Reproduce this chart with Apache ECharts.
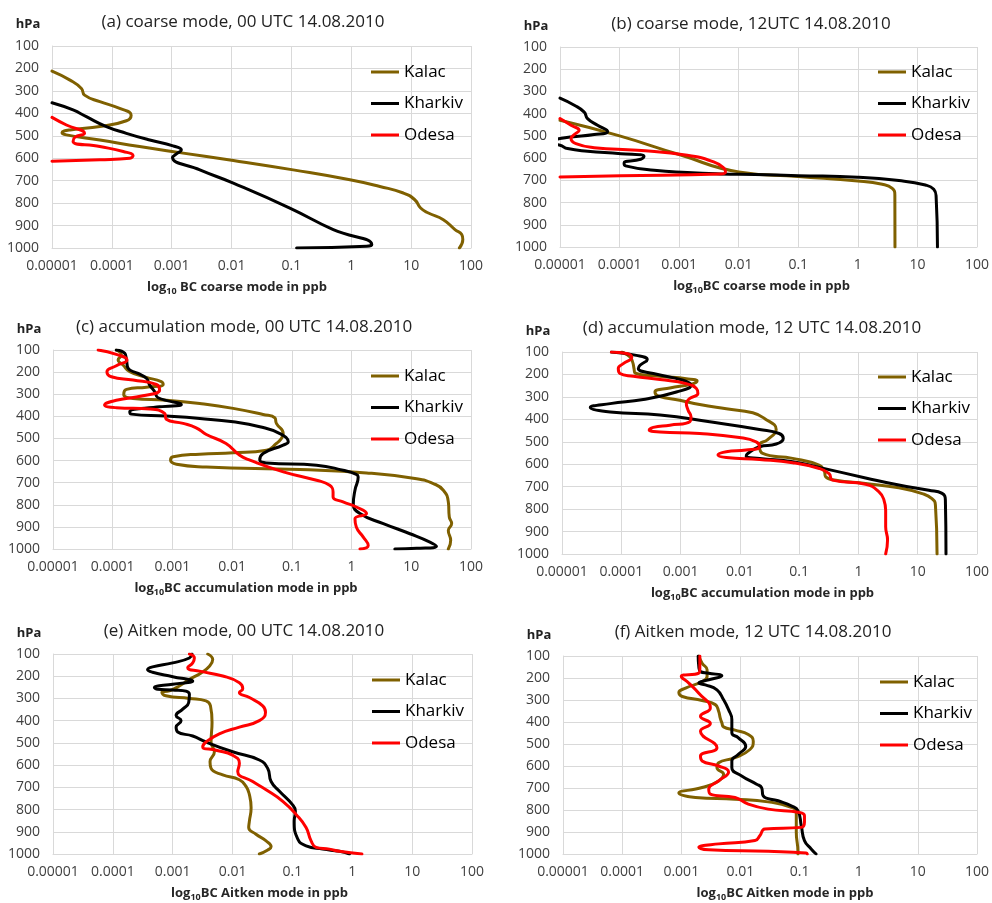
<!DOCTYPE html>
<html>
<head>
<meta charset="utf-8">
<script src="https://cdn.jsdelivr.net/npm/echarts@6/dist/echarts.min.js"></script>
<style>
html,body{margin:0;padding:0;background:#fff;}
#chart{width:992px;height:903px;}
</style>
</head>
<body>
<div id="chart"></div>
<script>
// ---------- DATA: [BC in ppb, pressure in hPa] ----------
const stations = ['Kalac', 'Kharkiv', 'Odesa'];
const xTickLabels = ['0.00001', '0.0001', '0.001', '0.01', '0.1', '1', '10', '100'];

// (a) coarse mode, 00 UTC
const coarse00Kalac = [[1e-5,212],[2e-5,252],[3.1e-5,289],[3.5e-5,319],[6.3e-5,348],[1.35e-4,378],[2.1e-4,408],[1.75e-4,433],[6.3e-5,459],[2e-5,474],[1.47e-5,486],[1.74e-5,496],[6.3e-5,519],[2.9e-4,548],[1.36e-3,575],[0.0107,610],[0.107,652],[0.95,696],[3.0,726],[7.4,755],[11.5,785],[14.4,822],[19.4,844],[34.5,874],[54,918],[70,940],[73,962],[64,1000]];
const coarse00Kharkiv = [[1e-5,353],[2.25e-5,385],[3.75e-5,415],[8.1e-5,459],[1.75e-4,489],[4.3e-4,519],[1.05e-3,545],[1.45e-3,563],[1.2e-3,581],[1.03e-3,596],[2.95e-3,652],[0.0107,711],[0.094,822],[0.5,918],[2.2,985],[1.8,992],[0.122,1000]];
const coarse00Odesa = [[1e-5,418],[1.74e-5,452],[3.5e-5,489],[2.4e-5,507],[2.25e-5,526],[6.3e-5,548],[1.55e-4,570],[2.26e-4,588],[2e-4,600],[6.3e-5,607],[1e-5,613]];

// (b) coarse mode, 12 UTC
const coarse12Kalac = [[1e-5,430],[1e-4,500],[1e-3,584],[0.01,662],[0.1,683],[1,703],[2.57,718],[3.78,736],[4.18,766],[4.2,1000]];
const coarse12Kharkiv = [[1e-5,330],[1.74e-5,362],[2.55e-5,393],[2.9e-5,422],[4.27e-5,452],[6.3e-5,480],[3.75e-5,494],[1.53e-5,505],[1e-5,512],[5e-6,527],[1e-5,542],[1.34e-5,557],[2.9e-5,569],[1.05e-4,580],[2.57e-4,592],[2.26e-4,605],[1.19e-4,622],[1.26e-4,635],[3.8e-4,655],[1.37e-3,665],[4.9e-3,671],[0.0187,674],[0.1,679],[1,686],[4.9,701],[13.6,721],[18.8,740],[20.6,773],[21.7,1000]];
const coarse12Odesa = [[1e-5,422],[1.53e-5,452],[2.1e-5,475],[1.74e-5,494],[1.53e-5,512],[1.85e-5,535],[3.75e-5,553],[2e-4,565],[1.37e-3,587],[3.8e-3,617],[5.6e-3,644],[6e-3,662],[4.9e-3,671],[1.05e-4,679],[1e-5,685]];

// (c) accumulation mode, 00 UTC
const accum00Kalac = [[1.15e-4,100],[1.4e-4,123],[1.23e-4,145],[1.49e-4,168],[1.93e-4,198],[3.67e-4,224],[6.5e-4,243],[7e-4,256],[3.67e-4,268],[1.7e-4,278],[1.53e-4,301],[2.19e-4,319],[7.9e-4,327],[2.87e-3,342],[0.0104,364],[0.033,392],[0.052,407],[0.055,432],[0.0716,478],[0.067,500],[0.055,523],[0.0376,553],[0.0104,565],[2.87e-3,571],[1.03e-3,583],[9.3e-4,598],[1.17e-3,617],[3.7e-3,629],[0.136,641],[1.78,656],[12.3,682],[23.4,704],[34.4,734],[41.7,787],[43.3,855],[47.4,885],[41.7,916],[45.7,961],[41.7,1000]];
const accum00Kharkiv = [[1.15e-4,100],[1.59e-4,115],[1.7e-4,145],[1.81e-4,183],[2.66e-4,206],[3.67e-4,228],[4.17e-4,259],[5.06e-4,289],[5.75e-4,316],[1.41e-3,346],[6.1e-4,357],[1.93e-4,379],[2.05e-4,390],[7.9e-4,399],[2.87e-3,410],[0.0104,425],[0.029,447],[0.063,478],[0.087,515],[0.0716,530],[0.033,568],[0.029,598],[0.0376,611],[0.259,621],[0.72,644],[1.2,662],[1.29,674],[1.14,734],[1.07,795],[1.38,840],[3.4,885],[9.5,931],[20.5,969],[26.4,988],[12.3,997],[5.3,1000]];
const accum00Odesa = [[5.7e-5,100],[1.15e-4,120],[1.74e-4,145],[1.15e-4,171],[8e-5,198],[9.5e-5,221],[2.19e-4,236],[5.4e-4,256],[6.1e-4,281],[3.2e-4,307],[1.15e-4,327],[7.3e-5,349],[1.15e-4,361],[4.17e-4,367],[7.4e-4,387],[7.9e-4,413],[1.51e-3,432],[2.5e-3,452],[3.7e-3,482],[7.9e-3,523],[0.0134,576],[0.0198,598],[0.072,651],[0.259,689],[0.43,712],[0.49,742],[0.49,765],[0.72,787],[1.2,810],[1.78,840],[1.14,863],[1.2,901],[1.57,946],[1.9,984],[1.38,1000]];

// (d) accumulation mode, 12 UTC
const accum12Kalac = [[1.02e-4,100],[1.4e-4,122],[1.55e-4,144],[1.64e-4,174],[1.7e-4,193],[4.5e-4,208],[1.25e-3,219],[1.9e-3,229],[1.5e-3,244],[6.6e-4,260],[3.7e-4,278],[4.2e-4,296],[9.7e-4,315],[2.1e-3,334],[5.9e-3,353],[0.0165,371],[0.026,396],[0.041,445],[0.0295,490],[0.0214,515],[0.0243,552],[0.0776,574],[0.217,604],[0.265,630],[0.28,656],[0.415,671],[1.32,686],[4.8,705],[11.9,731],[17.4,753],[19.9,782],[21.2,1000]];
const accum12Kharkiv = [[6.8e-5,100],[1.8e-4,115],[2.74e-4,134],[2.07e-4,159],[1.94e-4,174],[3.46e-4,196],[1.1e-3,226],[1.5e-3,248],[8.5e-4,278],[2.35e-4,312],[6.5e-5,330],[3e-5,347],[6.5e-5,367],[4.5e-4,381],[3.1e-3,411],[0.0214,445],[0.046,463],[0.054,485],[0.041,510],[0.0214,522],[0.0136,552],[0.0128,564],[0.0214,574],[0.0776,589],[0.217,614],[1.32,661],[4.8,693],[15.4,716],[25.8,730],[29.3,760],[30,1000]];
const accum12Odesa = [[6.8e-5,100],[1.23e-4,107],[1.5e-4,125],[1.08e-4,152],[8.9e-5,174],[9.5e-5,196],[1.6e-4,208],[4.5e-4,223],[1.25e-3,241],[1.85e-3,263],[1.96e-3,285],[1.43e-3,307],[1.25e-3,330],[1.34e-3,359],[1.5e-3,389],[1.43e-3,411],[6.6e-4,426],[3.46e-4,436],[2.96e-4,448],[4.5e-4,456],[2.1e-3,463],[9.8e-3,481],[0.0188,500],[0.0214,522],[0.0128,537],[5.9e-3,544],[4.27e-3,559],[5.9e-3,570],[0.0214,579],[0.0776,593],[0.219,619],[0.32,642],[0.366,671],[1.32,689],[2.22,723],[2.7,760],[2.88,805],[2.88,879],[3.1,938],[2.88,1000]];

// (e) Aitken mode, 00 UTC
const aitken00Kalac = [[3.85e-3,100],[4.66e-3,125],[4.1e-3,155],[2.98e-3,185],[1.9e-3,214],[1.29e-3,244],[8.8e-4,266],[6.6e-4,273],[7.7e-4,288],[1.9e-3,300],[3.6e-3,311],[4.27e-3,333],[4.54e-3,407],[4.37e-3,496],[4.97e-3,540],[4.2e-3,585],[4.37e-3,615],[6.85e-3,644],[0.013,666],[0.0168,696],[0.0191,733],[0.0204,792],[0.0191,852],[0.0186,881],[0.0246,911],[0.0363,941],[0.044,967],[0.0387,982],[0.028,1000]];
const aitken00Kharkiv = [[2.1e-3,100],[1.9e-3,118],[1e-3,140],[4.6e-4,158],[3.8e-4,170],[4.6e-4,182],[1e-3,202],[2.16e-3,222],[1e-3,236],[4.94e-4,251],[5.6e-4,259],[1e-3,262],[1.9e-3,281],[1.85e-3,318],[1.47e-3,348],[1.14e-3,377],[1.38e-3,400],[1.14e-3,429],[1.21e-3,451],[2.16e-3,469],[3.6e-3,496],[0.01,540],[0.028,577],[0.0387,615],[0.044,674],[0.0607,718],[0.1,778],[0.112,807],[0.107,852],[0.123,933],[0.169,963],[0.32,978],[0.61,988],[0.9,1000]];
const aitken00Odesa = [[1.9e-3,100],[2.3e-3,118],[2.16e-3,140],[1.78e-3,162],[2.79e-3,177],[6.85e-3,199],[0.013,229],[0.0148,256],[0.013,273],[0.0191,296],[0.0319,333],[0.0355,362],[0.028,400],[0.013,429],[6e-3,459],[3.6e-3,496],[3.17e-3,518],[5.3e-3,533],[0.01,555],[0.013,592],[0.0122,629],[0.0217,674],[0.0363,711],[0.069,763],[0.115,822],[0.169,881],[0.205,941],[0.249,970],[0.415,978],[0.61,988],[1.45,1000]];

// (f) Aitken mode, 12 UTC
const aitken12Kalac = [[1.98e-3,100],[2.25e-3,133],[2.73e-3,163],[2.73e-3,193],[2.25e-3,216],[1.18e-3,246],[9.1e-4,266],[1.04e-3,284],[2.25e-3,302],[3.76e-3,321],[4.28e-3,351],[4.56e-3,382],[4.86e-3,404],[5.19e-3,422],[8.1e-3,437],[0.0136,457],[0.0165,487],[0.0145,525],[8.1e-3,562],[4.28e-3,585],[4.01e-3,608],[5.19e-3,638],[4.28e-3,668],[2.25e-3,698],[9.1e-4,723],[1.74e-3,743],[8.1e-3,751],[0.0295,763],[0.0725,788],[0.088,811],[0.088,901],[0.094,992],[0.094,1000]];
const aitken12Kharkiv = [[1.93e-3,100],[1.98e-3,148],[2.11e-3,171],[2.91e-3,178],[4.86e-3,190],[2.91e-3,208],[1.98e-3,223],[2.56e-3,231],[4.01e-3,254],[5.19e-3,299],[6.3e-3,344],[7.16e-3,389],[7.16e-3,449],[9.25e-3,472],[0.0123,510],[9.25e-3,547],[7.16e-3,577],[7.16e-3,608],[0.0105,645],[0.0188,683],[0.0228,698],[0.0243,736],[0.0434,758],[0.0725,781],[0.094,803],[0.107,871],[0.121,939],[0.157,977],[0.19,1000]];
const aitken12Odesa = [[2.06e-3,100],[2.06e-3,163],[1.98e-3,178],[1e-3,193],[1.34e-3,223],[1.98e-3,269],[3.1e-3,336],[2.11e-3,374],[3.1e-3,407],[2.11e-3,442],[4.01e-3,517],[2.11e-3,555],[2.25e-3,577],[4.28e-3,600],[6.3e-3,627],[4.28e-3,668],[2.91e-3,705],[3.1e-3,728],[8.1e-3,743],[0.0136,773],[0.0295,796],[0.1,811],[0.121,826],[0.121,856],[0.107,879],[0.0259,886],[0.0214,916],[0.0176,939],[4.28e-3,954],[1.98e-3,969],[2.91e-3,981],[0.0295,988],[0.129,995],[0.135,1000]];

const panelTitles = ['(a) coarse mode, 00 UTC 14.08.2010', '(b) coarse mode, 12UTC 14.08.2010', '(c) accumulation mode, 00 UTC 14.08.2010', '(d) accumulation mode, 12 UTC 14.08.2010', '(e) Aitken mode, 00 UTC 14.08.2010', '(f) Aitken mode, 12 UTC 14.08.2010'];
const axisNames = [['log', '10', ' BC coarse mode in ppb'], ['log', '10', 'BC coarse mode in ppb'], ['log', '10', 'BC accumulation mode in ppb'], ['log', '10', 'BC accumulation mode in ppb'], ['log', '10', 'BC Aitken mode in ppb'], ['log', '10', 'BC Aitken mode in ppb']];
const panelData = [
  [coarse00Kalac, coarse00Kharkiv, coarse00Odesa],
  [coarse12Kalac, coarse12Kharkiv, coarse12Odesa],
  [accum00Kalac, accum00Kharkiv, accum00Odesa],
  [accum12Kalac, accum12Kharkiv, accum12Odesa],
  [aitken00Kalac, aitken00Kharkiv, aitken00Odesa],
  [aitken12Kalac, aitken12Kharkiv, aitken12Odesa]
];

// ---------- LAYOUT / STYLE ----------
const FONT = '"Open Sans", "Noto Sans", sans-serif';
const colors = ['#7F6000', '#000000', '#FF0000'];
const grids = [
  {left: 52, top: 46, width: 419, height: 202},
  {left: 560, top: 47, width: 418, height: 200},
  {left: 53, top: 350, width: 418, height: 199},
  {left: 562, top: 352, width: 416, height: 202},
  {left: 53, top: 654, width: 419, height: 202},
  {left: 563, top: 656, width: 416, height: 199}
];
const titlePos = [[243, 22], [751, 24], [244, 327], [752, 328], [244, 631], [753, 632]];
const hpaPos = [[28, 24], [536, 26], [29, 329], [538, 331], [29, 633], [539, 635]];
const legendPos = [[371, 62], [878, 62], [371, 366], [878, 367], [372, 670], [880, 672]];
const namePad = [[0, 49, 0, 0], [0, 14, 0, 0], [0, 32, 0, 0], [0, 14, 0, 0], [0, 6, 0, 0], [0, 0, 0, 30]];

const gridColor = '#D9D9D9';
const xAxes = [], yAxes = [], series = [], legends = [], graphics = [];

grids.forEach((g, i) => {
  const nm = axisNames[i];
  xAxes.push({
    type: 'log', logBase: 10, gridIndex: i, min: 0.00001, max: 100, splitNumber: 7,
    position: 'bottom',
    axisLine: {show: true, onZero: false, lineStyle: {color: gridColor, width: 1}},
    axisTick: {show: false},
    axisLabel: {
      show: true, interval: 0, fontSize: 14, color: '#404040', fontFamily: FONT, margin: 11,
      showMinLabel: true, showMaxLabel: true, hideOverlap: false,
      formatter: v => xTickLabels[Math.round(Math.log10(v)) + 5]
    },
    splitLine: {show: true, lineStyle: {color: gridColor, width: 1}},
    name: '{n|' + nm[0] + '}{s|' + nm[1] + '}{n|' + nm[2] + '}',
    nameLocation: 'middle', nameGap: 30,
    nameTextStyle: {
      padding: namePad[i],
      rich: {
        n: {fontSize: 13, fontWeight: 'bold', fontFamily: FONT, color: '#262626', lineHeight: 18},
        s: {fontSize: 9, fontWeight: 'bold', fontFamily: FONT, color: '#262626', lineHeight: 9, verticalAlign: 'bottom'}
      }
    }
  });
  yAxes.push({
    type: 'value', gridIndex: i, inverse: true, min: 100, max: 1000, interval: 100,
    axisLine: {show: true, lineStyle: {color: gridColor, width: 1}},
    axisTick: {show: false},
    axisLabel: {fontSize: 14, color: '#404040', fontFamily: FONT, margin: 13, formatter: v => String(v)},
    splitLine: {show: true, lineStyle: {color: gridColor, width: 1}}
  });
  panelData[i].forEach((d, k) => {
    series.push({
      type: 'line', name: stations[k], xAxisIndex: i, yAxisIndex: i, data: d,
      showSymbol: false, symbol: 'none', smooth: 0.5, clip: true,
      lineStyle: {color: colors[k], width: 3, join: 'round', cap: 'round'},
      itemStyle: {color: colors[k]},
      emphasis: {disabled: true}
    });
  });
  legends.push({
    left: legendPos[i][0], top: legendPos[i][1], orient: 'vertical', padding: 0,
    icon: 'rect', itemWidth: 28, itemHeight: 3, itemGap: 11.5, selectedMode: false,
    textStyle: {fontSize: 17, color: '#000', fontFamily: FONT, lineHeight: 20},
    data: stations
  });
  graphics.push({
    type: 'text', x: titlePos[i][0], y: titlePos[i][1],
    style: {text: panelTitles[i], font: '17px ' + FONT, fill: '#222', textAlign: 'center', textVerticalAlign: 'middle'}
  });
  graphics.push({
    type: 'text', x: hpaPos[i][0], y: hpaPos[i][1],
    style: {text: 'hPa', font: 'bold 13px ' + FONT, fill: '#222', textAlign: 'center', textVerticalAlign: 'middle'}
  });
});

const chart = echarts.init(document.getElementById('chart'), null, {renderer: 'canvas'});
chart.setOption({
  backgroundColor: '#fff',
  animation: false,
  grid: grids,
  xAxis: xAxes,
  yAxis: yAxes,
  legend: legends,
  graphic: graphics,
  series: series
});
</script>
</body>
</html>
